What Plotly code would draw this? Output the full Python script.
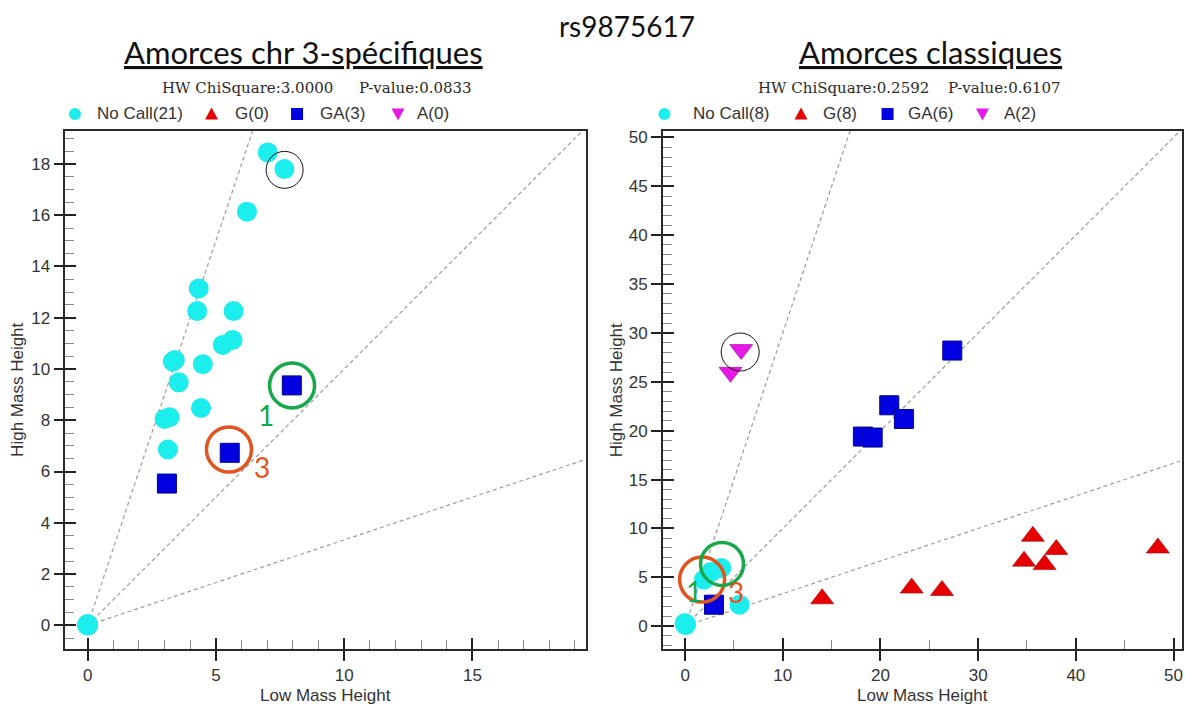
import plotly.graph_objects as go

W, H = 1185, 704

# ---------------- data ----------------
main_title = "rs9875617"
panel_titles = ["Amorces chr 3-spécifiques", "Amorces classiques"]
hw_stats = [("HW ChiSquare:3.0000", "P-value:0.0833"),
            ("HW ChiSquare:0.2592", "P-value:0.6107")]
legend_labels = [["No Call(21)", "G(0)", "GA(3)", "A(0)"],
                 ["No Call(8)", "G(8)", "GA(6)", "A(2)"]]

# panel 1 : chr 3-specific primers
p1_nocall_x = [7.02, 7.67, 6.21, 4.33, 4.27, 5.69, 5.65, 5.27, 3.32, 3.40, 4.49,
               3.55, 4.42, 3.00, 3.19, 3.13, 0.00, 0.02, -0.03, 0.00, 0.01]
p1_nocall_y = [18.45, 17.80, 16.14, 13.14, 12.26, 12.26, 11.13, 10.94, 10.29, 10.35, 10.19,
               9.48, 8.48, 8.05, 8.12, 6.86, 0.05, 0.00, 0.02, 0.00, 0.03]
p1_g_x, p1_g_y = [], []
p1_ga_x = [7.96, 5.54, 3.09]
p1_ga_y = [9.36, 6.73, 5.53]
p1_a_x, p1_a_y = [], []

# panel 2 : classic primers
p2_nocall_x = [0.00, 0.05, -0.05, 0.10, 5.57, 1.93, 2.68, 3.70]
p2_nocall_y = [0.24, 0.10, 0.30, 0.20, 2.20, 4.77, 5.55, 5.96]
p2_g_x = [14.03, 23.2, 26.3, 35.6, 34.7, 38.0, 36.8, 48.4]
p2_g_y = [2.80, 3.90, 3.65, 9.20, 6.65, 7.84, 6.30, 8.00]
p2_ga_x = [2.95, 18.2, 19.2, 20.9, 22.4, 27.35]
p2_ga_y = [2.20, 19.4, 19.3, 22.6, 21.2, 28.2]
p2_a_x = [5.74, 4.65]
p2_a_y = [28.3, 25.97]

# cluster boundary slopes (High/Low ratio)
guide_slopes = [3.0, 1.0, 1.0 / 3.0]

# highlighted samples: (x, y, diameter px, colour, width)
p1_rings = [(7.68, 17.77, 37, "#111111", 1), (7.97, 9.36, 45, "#17A84B", 3.5),
            (5.51, 6.86, 45, "#E2541E", 3.5)]
p2_rings = [(5.64, 28.05, 38, "#111111", 1), (1.74, 4.77, 45, "#E2541E", 3.5),
            (3.78, 6.37, 43, "#17A84B", 3.5)]
p1_ring_labels = [("1", 6.97, 8.22, "#17A84B"), ("3", 6.80, 6.18, "#E2541E")]
p2_ring_labels = [("1", 0.95, 3.63, "#17A84B"), ("3", 5.24, 3.45, "#E2541E")]

# ---------------- style ----------------
CYAN, RED, BLUE, MAGENTA = "#1CEEEE", "#E60000", "#0000E0", "#E619E6"
TXT = "#333333"
TICKFONT = dict(family="Arial, Liberation Sans", size=17, color=TXT)

# axis frames (px) -> paper domains
p1_px = (65.5, 586.0)
p2_px = (663.5, 1183.3)
top_px, bot_px = 129.0, 649.0
ydom = [1 - bot_px / H, 1 - top_px / H]

p1_xr, p1_yr = [-0.865, 19.41], [-0.93, 19.3]
p2_xr, p2_yr = [-2.27, 50.9], [-2.35, 50.7]

fig = go.Figure()


def add_panel(xa, ya, xr, nc, g, ga, a):
    for s in guide_slopes:
        fig.add_trace(go.Scatter(
            x=[0, xr[1] * 1.2], y=[0, s * xr[1] * 1.2], mode="lines",
            line=dict(color="#9C9C9C", width=1.2, dash="4px,3px"),
            xaxis=xa, yaxis=ya, hoverinfo="skip", showlegend=False))
    fig.add_trace(go.Scatter(x=nc[0], y=nc[1], mode="markers", xaxis=xa, yaxis=ya,
                             marker=dict(symbol="circle", size=20, color=CYAN,
                                         line=dict(width=0)),
                             hoverinfo="skip", showlegend=False))
    fig.add_trace(go.Scatter(x=g[0], y=g[1], mode="markers", xaxis=xa, yaxis=ya,
                             marker=dict(symbol="triangle-up", size=20, color=RED,
                                         line=dict(width=0.6, color="#A00000")),
                             hoverinfo="skip", showlegend=False))
    fig.add_trace(go.Scatter(x=ga[0], y=ga[1], mode="markers", xaxis=xa, yaxis=ya,
                             marker=dict(symbol="square", size=19, color=BLUE,
                                         line=dict(width=1, color="#000090")),
                             hoverinfo="skip", showlegend=False))
    fig.add_trace(go.Scatter(x=a[0], y=a[1], mode="markers", xaxis=xa, yaxis=ya,
                             marker=dict(symbol="triangle-down", size=20, color=MAGENTA,
                                         line=dict(width=0.6, color="#A000A0")),
                             hoverinfo="skip", showlegend=False))


add_panel("x", "y", p1_xr, (p1_nocall_x, p1_nocall_y), (p1_g_x, p1_g_y),
          (p1_ga_x, p1_ga_y), (p1_a_x, p1_a_y))
add_panel("x2", "y2", p2_xr, (p2_nocall_x, p2_nocall_y), (p2_g_x, p2_g_y),
          (p2_ga_x, p2_ga_y), (p2_a_x, p2_a_y))

# empty traces that carry the inner halves of the major ticks
fig.add_trace(go.Scatter(x=[], y=[], xaxis="x3", yaxis="y3", showlegend=False))
fig.add_trace(go.Scatter(x=[], y=[], xaxis="x4", yaxis="y4", showlegend=False))


def main_axis(dom, rng, dtick, minor_dtick, anchor):
    return dict(domain=dom, range=rng, autorange=False, anchor=anchor,
                showline=True, linecolor="#2A2A2A", linewidth=1.6, mirror=True,
                showgrid=False, zeroline=False, tick0=0, dtick=dtick,
                ticks="outside", ticklen=10, tickwidth=1.6, tickcolor="#222222",
                tickfont=TICKFONT,
                minor=dict(ticks="inside", ticklen=9, tickwidth=1, tickcolor="#8A8A8A",
                           dtick=minor_dtick, tick0=0, showgrid=False))


def inner_axis(rng, dtick, overlay, anchor, side):
    return dict(range=rng, autorange=False, overlaying=overlay, anchor=anchor, side=side,
                showline=False, showgrid=False, zeroline=False, tick0=0, dtick=dtick,
                ticks="inside", ticklen=11, tickwidth=1.6, tickcolor="#222222",
                showticklabels=False)


fig.update_layout(
    width=W, height=H,
    margin=dict(l=0, r=0, t=0, b=0),
    paper_bgcolor="white", plot_bgcolor="white",
    showlegend=False,
    xaxis=main_axis([p1_px[0] / W, p1_px[1] / W], p1_xr, 5, 1, "y"),
    yaxis=main_axis(ydom, p1_yr, 2, 0.5, "x"),
    xaxis2=main_axis([p2_px[0] / W, p2_px[1] / W], p2_xr, 10, 5, "y2"),
    yaxis2=main_axis(ydom, p2_yr, 5, 1, "x2"),
    xaxis3=inner_axis(p1_xr, 5, "x", "y", "bottom"),
    yaxis3=inner_axis(p1_yr, 2, "y", "x", "left"),
    xaxis4=inner_axis(p2_xr, 10, "x2", "y2", "bottom"),
    yaxis4=inner_axis(p2_yr, 5, "y2", "x2", "left"),
)

ann = []
shapes = []


def px(xp, yp):
    return xp / W, 1 - yp / H


def text_at(text, xp, yp, font, xanchor="center", **kw):
    x, y = px(xp, yp)
    ann.append(dict(text=text, x=x, y=y, xref="paper", yref="paper", showarrow=False,
                    xanchor=xanchor, yanchor="middle", font=font, **kw))


# titles
text_at(main_title, 628, 24, dict(family="Lato", size=28, color="#111111"))
for t, cx in zip(panel_titles, [304, 931]):
    text_at("<u>" + t + "</u>", cx, 50, dict(family="Lato", size=31, color="#111111"))

# HW statistics
for (a1, a2), (x1, x2) in zip(hw_stats, [(160, 357), (757, 947)]):
    for t, xx in ((a1, x1), (a2, x2)):
        text_at(t, xx, 86, dict(family="DejaVu Serif", size=15, color="#2A2A2A"),
                xanchor="left")

# legend rows
legend_glyph_x = [[75, 211.7, 297.3, 398.3], [665, 801.7, 888.3, 983.3]]
legend_text_x = [[95, 233, 318, 415], [692, 822, 907, 1003]]
glyph_paths = [None, "M-6.5,-5.5L6.5,-5.5L0,6.5Z", None, "M-6.5,5.5L6.5,5.5L0,-6.5Z"]
glyph_cols = [CYAN, RED, BLUE, MAGENTA]
LEG_Y = 112.3
for labels, gx, tx in zip(legend_labels, legend_glyph_x, legend_text_x):
    for i, lab in enumerate(labels):
        ax, ay = px(gx[i], LEG_Y)
        base = dict(xref="paper", yref="paper", xsizemode="pixel", ysizemode="pixel",
                    xanchor=ax, yanchor=ay, fillcolor=glyph_cols[i], line=dict(width=0))
        if i == 0:
            shapes.append(dict(type="circle", x0=-6, x1=6, y0=-6, y1=6, **base))
        elif i == 2:
            shapes.append(dict(type="rect", x0=-6, x1=6, y0=-6, y1=6, **base))
        else:
            shapes.append(dict(type="path", path=glyph_paths[i], **base))
        text_at(lab, tx[i], LEG_Y, dict(family="Arial, Liberation Sans", size=17, color=TXT),
                xanchor="left")

# axis titles
for (l, r), ylab_x in ((p1_px, 18), (p2_px, 617)):
    text_at("Low Mass Height", (l + r) / 2, 695,
            dict(family="Arial, Liberation Sans", size=17, color=TXT))
    text_at("High Mass Height", ylab_x, (top_px + bot_px) / 2,
            dict(family="Arial, Liberation Sans", size=17, color=TXT), textangle=-90)

# highlight rings and their sample numbers
for rings, labels, xa, ya in ((p1_rings, p1_ring_labels, "x", "y"),
                              (p2_rings, p2_ring_labels, "x2", "y2")):
    for cx, cy, d, col, lw in rings:
        r = d / 2
        shapes.append(dict(type="circle", xref=xa, yref=ya, xsizemode="pixel",
                           ysizemode="pixel", xanchor=cx, yanchor=cy,
                           x0=-r, x1=r, y0=-r, y1=r, line=dict(color=col, width=lw)))
    for t, lx, ly, col in labels:
        ann.append(dict(text=t, x=lx, y=ly, xref=xa, yref=ya, showarrow=False,
                        xanchor="center", yanchor="middle",
                        font=dict(family="Lato", size=28, color=col)))

fig.update_layout(annotations=ann, shapes=shapes)
fig.write_html("out.html")
